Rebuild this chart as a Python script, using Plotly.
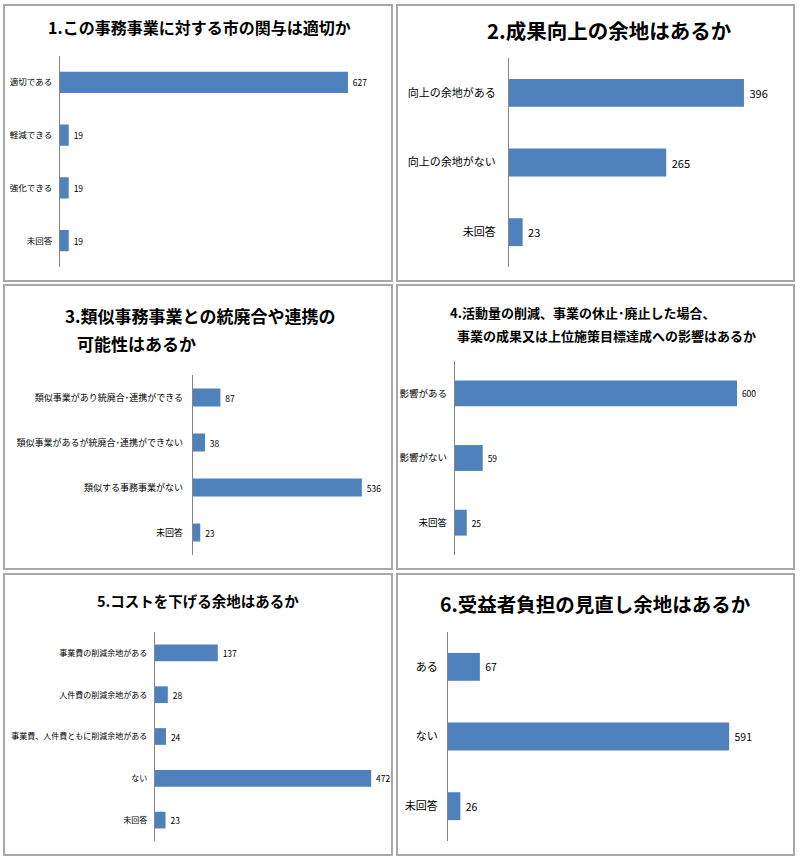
import plotly.graph_objects as go

# ---------------- data ----------------
q1_title = "1.この事務事業に対する市の関与は適切か"
q1_labels = ["適切である", "軽減できる", "強化できる", "未回答"]
q1_values = [627, 19, 19, 19]

q2_title = "2.成果向上の余地はあるか"
q2_labels = ["向上の余地がある", "向上の余地がない", "未回答"]
q2_values = [396, 265, 23]

q3_title_lines = ["3.類似事務事業との統廃合や連携の", "可能性はあるか"]
q3_labels = ["類似事業があり統廃合･連携ができる", "類似事業があるが統廃合･連携ができない",
             "類似する事務事業がない", "未回答"]
q3_values = [87, 38, 536, 23]

q4_title_lines = ["4.活動量の削減、事業の休止･廃止した場合、", "事業の成果又は上位施策目標達成への影響はあるか"]
q4_labels = ["影響がある", "影響がない", "未回答"]
q4_values = [600, 59, 25]

q5_title = "5.コストを下げる余地はあるか"
q5_labels = ["事業費の削減余地がある", "人件費の削減余地がある", "事業費、人件費ともに削減余地がある",
             "ない", "未回答"]
q5_values = [137, 28, 24, 472, 23]

q6_title = "6.受益者負担の見直し余地はあるか"
q6_labels = ["ある", "ない", "未回答"]
q6_values = [67, 591, 26]

# ---------------- layout helpers ----------------
W, H = 800, 860
FONT = "Noto Sans CJK JP"
BAR = "#4F81BD"
AXIS = "#868686"


def fx(p):
    return p / W


def fy(p):
    return 1 - p / H


panels = [
    dict(labels=q1_labels, values=q1_values, x0=60, x1=381.5, xmax=700, yt=56, yb=267, tk=8.5, vs=8.5, so=5),
    dict(labels=q2_labels, values=q2_values, x0=509, x1=776, xmax=450, yt=58, yb=267, tk=11, vs=11, so=10),
    dict(labels=q3_labels, values=q3_values, x0=193, x1=382, xmax=600, yt=375, yb=555, tk=9, vs=8.5, so=7),
    dict(labels=q4_labels, values=q4_values, x0=455, x1=784, xmax=700, yt=361, yb=555, tk=9.5, vs=8.5, so=5),
    dict(labels=q5_labels, values=q5_values, x0=155, x1=384, xmax=500, yt=632, yb=841, tk=8, vs=8.5, so=5),
    dict(labels=q6_labels, values=q6_values, x0=448, x1=781, xmax=700, yt=632, yb=841, tk=11, vs=10.5, so=7),
]

fig = go.Figure()
layout = dict(
    width=W, height=H, margin=dict(l=0, r=0, t=0, b=0),
    paper_bgcolor="white", plot_bgcolor="rgba(0,0,0,0)",
    showlegend=False, font=dict(family=FONT, color="#000000"),
    bargap=0.6,
)

for i, p in enumerate(panels, start=1):
    xa = "x" if i == 1 else f"x{i}"
    ya = "y" if i == 1 else f"y{i}"
    fig.add_trace(go.Bar(
        x=p["values"], y=p["labels"], orientation="h",
        marker=dict(color=BAR, line=dict(width=0)),
        width=0.4,
        text=["\u00a0" + str(v) for v in p["values"]], textposition="outside",
        textfont=dict(family=FONT, size=p["vs"], color="#000000"),
        cliponaxis=False, xaxis=xa, yaxis=ya, hoverinfo="skip",
    ))
    n = len(p["labels"])
    layout["xaxis" if i == 1 else f"xaxis{i}"] = dict(
        domain=[fx(p["x0"]), fx(p["x1"])], range=[0, p["xmax"]],
        visible=False, anchor=ya,
    )
    layout["yaxis" if i == 1 else f"yaxis{i}"] = dict(
        domain=[fy(p["yb"]), fy(p["yt"])], range=[n - 0.5, -0.5],
        type="category", anchor=xa,
        showline=True, linecolor=AXIS, linewidth=1.3,
        showgrid=False, zeroline=False, ticks="",
        ticklabelstandoff=p["so"],
        tickfont=dict(family=FONT, size=p["tk"], color="#000000"),
    )

# panel borders
boxes = [(4, 5, 392, 281), (397, 5, 794, 281),
         (4, 285, 392, 569), (397, 285, 794, 569),
         (4, 574, 392, 855), (397, 574, 794, 855)]
shapes = []
for (a, b, c, d) in boxes:
    shapes.append(dict(type="rect", xref="paper", yref="paper",
                       x0=fx(a), x1=fx(c), y0=fy(d), y1=fy(b),
                       line=dict(color="#a8a8a8", width=2), fillcolor="rgba(0,0,0,0)"))
layout["shapes"] = shapes


def title(text, x, y, size, anchor="center"):
    return dict(text=text, x=fx(x), y=fy(y), xref="paper", yref="paper",
                xanchor=anchor, yanchor="middle", showarrow=False,
                font=dict(family=FONT, size=size, color="#000000", weight=700))


annotations = [
    title(q1_title, 199, 27, 16),
    title(q2_title, 609, 30, 20.5),
    title(q3_title_lines[0], 63, 315, 17, "left"),
    title(q3_title_lines[1], 75, 343, 17, "left"),
    title(q4_title_lines[0], 448, 313, 13, "left"),
    title(q4_title_lines[1], 455, 335, 13, "left"),
    title(q5_title, 198, 600, 14.5),
    title(q6_title, 595, 603, 19.5),
]
layout["annotations"] = annotations

fig.update_layout(**layout)
fig.write_html(
    "out.html",
    config={"displayModeBar": False},
    post_script="document.body.style.margin='0';document.body.style.padding='0';"
                "document.body.style.overflow='hidden';",
)
